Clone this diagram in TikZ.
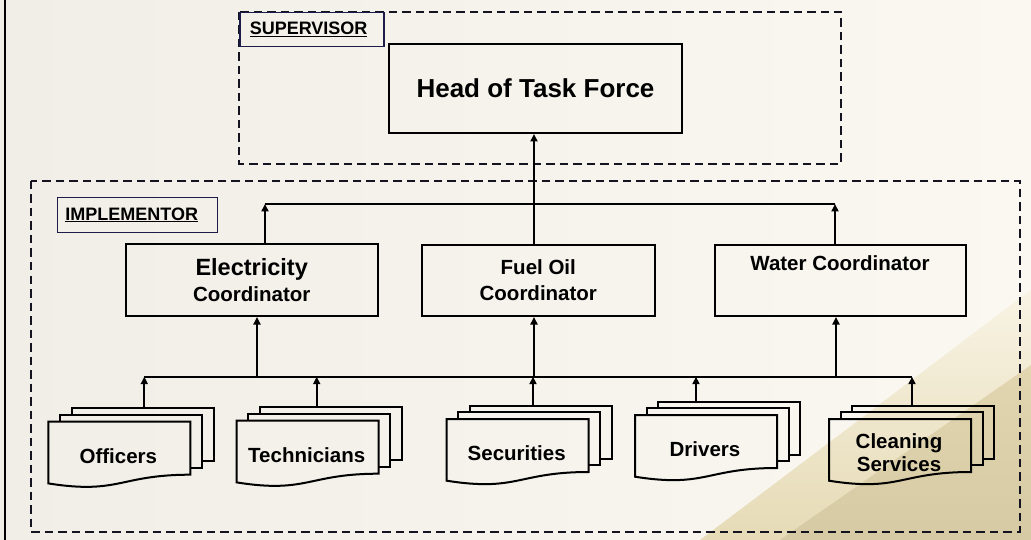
\documentclass[tikz,border=0pt]{standalone}
\usepackage{fontspec}
\setmainfont{Liberation Sans}
\usetikzlibrary{arrows.meta}
\definecolor{navy}{HTML}{1C1C48}
\definecolor{dashcol}{HTML}{141420}
\definecolor{bgL}{HTML}{F0EEE7}
\definecolor{bgM}{HTML}{FEFEFB}
\definecolor{bgR}{HTML}{FAF8F1}
\definecolor{wedgeT}{HTML}{F8F3E4}
\definecolor{wedgeB}{HTML}{E6DBB6}
\definecolor{streakT}{HTML}{E2D6B0}
\definecolor{streakB}{HTML}{D6CAA4}
\newcommand\ulin[1]{\setbox0\hbox{#1}\leavevmode\rlap{\raisebox{-2.4pt}{\rule{\wd0}{1.4pt}}}\box0}
% #1 name, #2 x, #3 y (front page top-left), #4 text, #5 arrow x-offset
\newcommand\mdoc[5]{%
  \begin{scope}[shift={(#2,#3)}]
    \draw[docline] (23.4,-6.7) -- (23.4,-13.4) -- (165.4,-13.4) -- (165.4,39.6) -- (153.7,39.6);
    \draw[docline] (11.7,0) -- (11.7,-6.7) -- (153.7,-6.7) -- (153.7,46.3) -- (142,46.3);
    \draw[docline] (0,0) -- (142,0) -- (142,53) .. controls (71,53) and (71,73) .. (0,61.7) -- cycle;
    \node[doctext] (#1) at (70,34) {#4};
    \coordinate (#1-top) at (#5,-13.4);
  \end{scope}}
\begin{document}
\begin{tikzpicture}[x=1pt,y=-1pt,
  cbox/.style={draw=black,line width=2pt,inner sep=0pt,align=center,font=\fontsize{20.5}{26}\selectfont\bfseries},
  txt/.style={inner sep=0pt,align=center,font=\fontsize{20.5}{26}\selectfont\bfseries},
  doctext/.style={inner sep=0pt,align=center,font=\fontsize{20.5}{23}\selectfont\bfseries},
  docline/.style={draw=black,line width=2pt,line join=miter},
  lbl/.style={draw=navy,line width=1.5pt,align=left,inner ysep=0pt,font=\fontsize{18}{20}\selectfont\bfseries},
  region/.style={draw=dashcol,line width=1.8pt,dash pattern=on 8.5pt off 5pt},
  wire/.style={draw=black,line width=2pt},
  arr/.style={draw=black,line width=2pt,-{Triangle[length=7.5pt,width=7pt]}}]
\useasboundingbox (0,0) rectangle (1031,540);
% background
\shade[left color=bgL, middle color=bgM, right color=bgR] (0,0) rectangle (1031,540);
\shade[top color=wedgeT, bottom color=wedgeB] (700,540) -- (1031,290) -- (1031,540) -- cycle;
\shade[top color=streakT, bottom color=streakB] (780,540) -- (1031,365) -- (1031,540) -- cycle;
\draw[black,line width=2pt] (5,0) -- (5,540);
% regions
\draw[region] (239,12) rectangle (841,164);
\draw[region] (31,181) rectangle (1020,531.7);
\node[lbl,anchor=north west,text width=124pt,inner xsep=10pt,minimum height=33.7pt] (suplbl) at (239,12) {\ulin{SUPERVISOR}};
\node[lbl,anchor=north west,text width=144pt,inner xsep=8pt,minimum height=35pt] (implbl) at (56.7,196.7) {\ulin{IMPLEMENTOR}};
% boxes
\node[cbox,minimum width=293pt,minimum height=89pt,font=\fontsize{26}{30}\selectfont\bfseries] (head) at (535.5,88.5) {Head of Task Force};
\node[cbox,minimum width=252pt,minimum height=71.7pt] (elec) at (251.7,280.2) {{\fontsize{23.5}{26}\selectfont Electricity}\\Coordinator};
\node[cbox,minimum width=233.3pt,minimum height=71pt] (fuel) at (538.3,280.5) {Fuel Oil\\Coordinator};
\node[cbox,minimum width=251pt,minimum height=71pt] (water) at (840.5,280.5) {};
\node[txt] (watertext) at (840,263) {Water Coordinator};
% documents
\mdoc{officers}{48.3}{421.7}{Officers}{96}
\mdoc{technicians}{236.7}{420.7}{Technicians}{80}
\mdoc{securities}{446.7}{419}{Securities}{86.3}
\mdoc{drivers}{635}{415}{Drivers}{61}
\mdoc{cleaning}{829}{419}{Cleaning\\Services}{83}
% top bus
\coordinate (tbL) at (265,204);
\coordinate (tbR) at (835,204);
\coordinate (tbM) at (534,204);
\draw[wire] (tbL) -- (tbR);
\draw[arr] (tbL |- elec.north) -- (tbL);
\draw[arr] (tbR |- water.north) -- (tbR);
\draw[arr] (tbM |- fuel.north) -- (tbM |- head.south);
% bottom bus
\coordinate (bbL) at (144.3,376.7);
\coordinate (bbR) at (912,376.7);
\coordinate (be) at (257,376.7);
\coordinate (bf) at (534,376.7);
\coordinate (bw) at (836,376.7);
\draw[wire] (bbL) -- (bbR);
\draw[arr] (be) -- (be |- elec.south);
\draw[arr] (bf) -- (bf |- fuel.south);
\draw[arr] (bw) -- (bw |- water.south);
\draw[arr] (officers-top) -- (officers-top |- bbL);
\draw[arr] (technicians-top) -- (technicians-top |- bbL);
\draw[arr] (securities-top) -- (securities-top |- bbL);
\draw[arr] (drivers-top) -- (drivers-top |- bbL);
\draw[arr] (cleaning-top) -- (cleaning-top |- bbL);
\end{tikzpicture}
\end{document}
